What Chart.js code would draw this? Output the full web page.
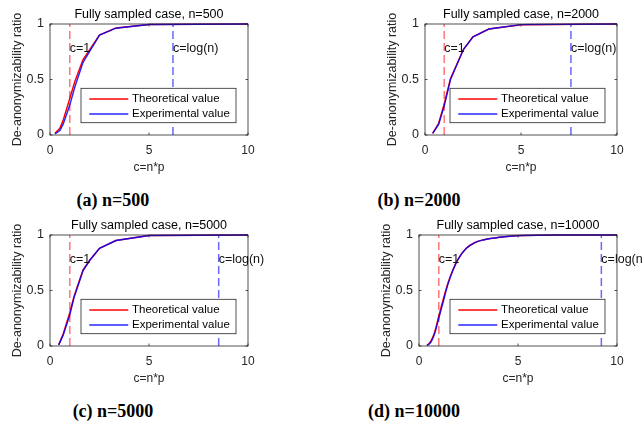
<!DOCTYPE html>
<html>
<head>
<meta charset="utf-8">
<script src="https://cdn.jsdelivr.net/npm/chart.js@4/dist/chart.umd.min.js"></script>
<style>
  html, body { margin: 0; padding: 0; background: #fff; }
  body { width: 642px; height: 423px; position: relative; overflow: hidden; }
  .cv { position: absolute; }
  .cap { position: absolute; font-family: 'Liberation Serif', 'Times New Roman', serif; font-weight: bold;
         font-size: 18px; line-height: 18px; color: #000; white-space: nowrap; transform: translateX(-50%); }
</style>
</head>
<body>
<canvas id="cA" class="cv" style="left:0px;top:0px;" width="273" height="180"></canvas>
<canvas id="cB" class="cv" style="left:375px;top:0px;" width="267" height="180"></canvas>
<canvas id="cC" class="cv" style="left:0px;top:211px;" width="273" height="180"></canvas>
<canvas id="cD" class="cv" style="left:369px;top:211px;" width="273" height="180"></canvas>
<div class="cap" style="left:113px;top:191px;">(a) n=500</div>
<div class="cap" style="left:419px;top:191px;">(b) n=2000</div>
<div class="cap" style="left:113px;top:402px;">(c) n=5000</div>
<div class="cap" style="left:414px;top:402px;">(d) n=10000</div>
<script>
// ---------------- data ----------------
const nValues = [500, 2000, 5000, 10000];
const logN = [6.21, 7.60, 8.52, 9.21];
const xTicks = [0, 5, 10];
const yTicks = [0, 0.5, 1];

const cA = [0.25, 0.5, 0.67, 1.0, 1.25, 1.67, 2.5, 3.33, 5, 10];
const theoA = [0.015, 0.06, 0.135, 0.33, 0.48, 0.68, 0.90, 0.965, 0.995, 1.0];
const expA = [0.01, 0.04, 0.10, 0.27, 0.43, 0.655, 0.90, 0.962, 0.995, 1.0];

const cB = [0.4, 0.71, 1.0, 1.33, 2.0, 2.5, 3.33, 5, 10];
const theoB = [0.015, 0.105, 0.28, 0.51, 0.77, 0.885, 0.955, 0.994, 1.0];
const expB = [0.015, 0.095, 0.26, 0.50, 0.77, 0.885, 0.955, 0.994, 1.0];

const cC = [0.44, 0.67, 1.0, 1.22, 1.67, 2.0, 2.5, 3.33, 5, 10];
const theoC = [0.01, 0.11, 0.30, 0.45, 0.685, 0.77, 0.88, 0.95, 0.995, 1.0];
const expC = [0.01, 0.10, 0.28, 0.44, 0.68, 0.77, 0.88, 0.95, 0.995, 1.0];

const cD = [0.4, 0.5, 0.62, 0.79, 1.0, 1.21, 1.46, 1.71, 1.97, 2.39, 2.8, 3.23, 4.07, 5.25, 7, 10];
const theoD = [0.005, 0.02, 0.05, 0.125, 0.27, 0.41, 0.565, 0.685, 0.78, 0.88, 0.93, 0.955, 0.98, 0.995, 1.0, 1.0];
const expD = [0.005, 0.015, 0.04, 0.11, 0.25, 0.39, 0.555, 0.68, 0.78, 0.88, 0.93, 0.955, 0.98, 0.995, 1.0, 1.0];

const seriesLabels = ['Theoretical value', 'Experimental value'];
const xLabel = 'c=n*p';
const yLabel = 'De-anonymizability ratio';
const annot1 = 'c=1';
const annot2 = 'c=log(n)';
const annotY = 0.78;

// ---------------- drawing ----------------
const FONT = "'Liberation Sans', Arial, sans-serif";
const TXT = '#262626';

const matlabPlugin = {
  id: 'matlab',
  afterDatasetsDraw(chart, args, opts) {
    const ctx = chart.ctx;
    const a = chart.chartArea;
    const xs = chart.scales.x, ys = chart.scales.y;
    ctx.save();
    // box
    ctx.strokeStyle = TXT;
    ctx.lineWidth = 0.8;
    ctx.strokeRect(a.left, a.top, a.right - a.left, a.bottom - a.top);
    // inward ticks
    const tl = 2.5;
    ctx.beginPath();
    xTicks.forEach(v => {
      const px = xs.getPixelForValue(v);
      ctx.moveTo(px, a.bottom); ctx.lineTo(px, a.bottom - tl);
      ctx.moveTo(px, a.top); ctx.lineTo(px, a.top + tl);
    });
    yTicks.forEach(v => {
      const py = ys.getPixelForValue(v);
      ctx.moveTo(a.left, py); ctx.lineTo(a.left + tl, py);
      ctx.moveTo(a.right, py); ctx.lineTo(a.right - tl, py);
    });
    ctx.stroke();
    // title
    ctx.fillStyle = '#000';
    ctx.font = '12.5px ' + FONT;
    ctx.textAlign = 'center';
    ctx.textBaseline = 'middle';
    ctx.fillText(opts.title, (a.left + a.right) / 2, a.top - 9);
    // annotations
    ctx.textAlign = 'left';
    ctx.fillStyle = '#111';
    ctx.font = '12.5px ' + FONT;
    ctx.fillText(annot1, xs.getPixelForValue(1), ys.getPixelForValue(annotY));
    ctx.fillText(annot2, xs.getPixelForValue(opts.logn), ys.getPixelForValue(annotY));
    // legend
    const bw = 155, bh = 34.4;
    const bl = a.right - 12 - bw, bt = a.bottom - 12.3 - bh;
    ctx.fillStyle = '#fff';
    ctx.fillRect(bl, bt, bw, bh);
    ctx.strokeStyle = '#262626';
    ctx.lineWidth = 0.8;
    ctx.strokeRect(bl, bt, bw, bh);
    const ds = chart.data.datasets;
    [0, 1].forEach(i => {
      const yy = bt + (i === 0 ? 10.7 : 25.7);
      ctx.strokeStyle = ds[i].borderColor;
      ctx.lineWidth = 1.5;
      ctx.beginPath();
      ctx.moveTo(bl + 8.3, yy); ctx.lineTo(bl + 47.3, yy);
      ctx.stroke();
      ctx.fillStyle = '#000';
      ctx.font = '11.5px ' + FONT;
      ctx.textAlign = 'left';
      ctx.textBaseline = 'middle';
      ctx.fillText(ds[i].label, bl + 51, yy);
    });
    ctx.restore();
  }
};

function pts(xsArr, ysArr) { return xsArr.map((x, i) => ({ x: x, y: ysArr[i] })); }

function makeChart(id, cs, theo, exp, idx, smooth) {
  const ln = logN[idx];
  new Chart(document.getElementById(id), {
    type: 'line',
    data: {
      datasets: [
        { label: seriesLabels[0], data: pts(cs, theo), borderColor: '#ff0000', borderWidth: 1.5,
          pointRadius: 0, tension: smooth ? 0.4 : 0, cubicInterpolationMode: smooth ? 'monotone' : 'default',
          clip: false, order: 1 },
        { label: seriesLabels[1], data: pts(cs, exp), borderColor: 'rgba(0,0,255,0.85)', borderWidth: 1.4,
          pointRadius: 0, tension: smooth ? 0.4 : 0, cubicInterpolationMode: smooth ? 'monotone' : 'default',
          clip: false, order: 0 },
        { label: 'c=1', data: pts([1, 1], [0, 1]), borderColor: 'rgba(255,60,60,0.7)', borderWidth: 1.5,
          borderDash: [8, 4], pointRadius: 0, order: 2 },
        { label: 'c=log(n)', data: pts([ln, ln], [0, 1]), borderColor: 'rgba(40,40,255,0.7)', borderWidth: 1.5,
          borderDash: [8, 4], pointRadius: 0, order: 3 }
      ]
    },
    options: {
      responsive: false,
      animation: false,
      events: [],
      layout: { padding: { top: 24, left: 0, right: 25, bottom: 0 } },
      plugins: {
        legend: { display: false },
        tooltip: { enabled: false },
        matlab: { title: 'Fully sampled case, n=' + nValues[idx], logn: ln }
      },
      scales: {
        x: {
          type: 'linear', min: 0, max: 10,
          afterBuildTicks: s => { s.ticks = xTicks.map(v => ({ value: v })); },
          afterFit: s => { s.height = 45; },
          grid: { display: false, drawTicks: false },
          border: { display: false },
          ticks: { padding: 8, color: TXT, font: { family: FONT, size: 12 }, autoSkip: false, maxRotation: 0,
                   callback: v => String(v) },
          title: { display: true, text: xLabel, color: TXT, font: { family: FONT, size: 12 }, padding: { top: 0, bottom: 5 } }
        },
        y: {
          type: 'linear', min: 0, max: 1,
          afterBuildTicks: s => { s.ticks = yTicks.map(v => ({ value: v })); },
          afterFit: s => { s.width = 50; },
          grid: { display: false, drawTicks: false },
          border: { display: false },
          ticks: { padding: 6, color: TXT, font: { family: FONT, size: 12.5 }, autoSkip: false,
                   callback: v => String(v) },
          title: { display: true, text: yLabel, color: TXT, font: { family: FONT, size: 12.5 }, padding: { top: 10, bottom: 0 } }
        }
      }
    },
    plugins: [matlabPlugin]
  });
}

makeChart('cA', cA, theoA, expA, 0, false);
makeChart('cB', cB, theoB, expB, 1, false);
makeChart('cC', cC, theoC, expC, 2, false);
makeChart('cD', cD, theoD, expD, 3, true);
</script>
</body>
</html>
